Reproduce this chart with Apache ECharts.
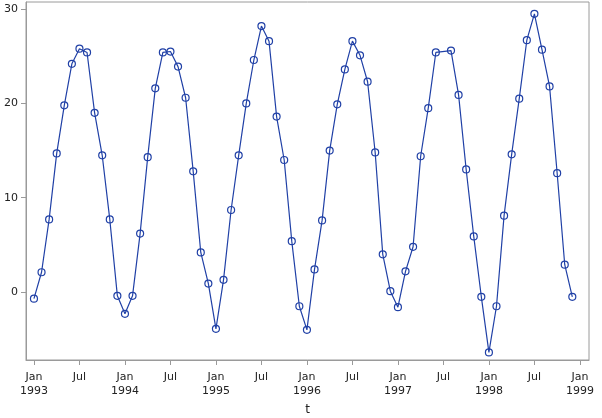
<!DOCTYPE html>
<html>
<head>
<meta charset="utf-8">
<script src="https://cdn.jsdelivr.net/npm/echarts@6/dist/echarts.min.js"></script>
<style>
html,body{margin:0;padding:0;background:#fff;}
#chart{width:602px;height:418px;}
</style>
</head>
<body>
<div id="chart"></div>
<script>
// Monthly values, Jan..Dec for each year (null = missing month)
const years = [1993, 1994, 1995, 1996, 1997, 1998];
const y1993 = [-0.7, 2.1, 7.7, 14.7, 19.8, 24.2, 25.8, 25.4, 19.0, 14.5, 7.7, -0.4];
const y1994 = [-2.3, -0.4, 6.2, 14.3, 21.6, 25.4, 25.5, 23.9, 20.6, 12.8, 4.2, 0.9];
const y1995 = [-3.9, 1.3, 8.7, 14.5, 20.0, 24.6, 28.2, 26.6, 18.6, 14.0, 5.4, -1.5];
const y1996 = [-4.0, 2.4, 7.6, 15.0, 19.9, 23.6, 26.6, 25.1, 22.3, 14.8, 4.0, 0.1];
const y1997 = [-1.6, 2.2, 4.8, 14.4, 19.5, 25.4, null, 25.6, 20.9, 13.0, 5.9, -0.5];
const y1998 = [-6.4, -1.5, 8.1, 14.6, 20.5, 26.7, 29.5, 25.7, 21.8, 12.6, 2.9, -0.5];
const yearly = [y1993, y1994, y1995, y1996, y1997, y1998];

// x tick positions (months since Jan 1993) and y ticks
const xTicks = [0, 6, 12, 18, 24, 30, 36, 42, 48, 54, 60, 66, 72];
const yTicks = [0, 10, 20, 30];

const data = [];
yearly.forEach((arr, yi) => {
  arr.forEach((v, m) => {
    if (v !== null) data.push([yi * 12 + m, v]);
  });
});

const frame = '#9a9a9a';
const lineCol = '#2040a6';
const chart = echarts.init(document.getElementById('chart'), null, {renderer: 'canvas'});
chart.setOption({
  animation: false,
  grid: {left: 26, right: 13, top: 2, bottom: 58, show: true, borderColor: frame, borderWidth: 1,
         containLabel: false, outerBoundsMode: 'none'},
  xAxis: {
    type: 'value',
    min: -1.05,
    max: 73.2,
    name: 't',
    nameLocation: 'middle',
    nameGap: 44,
    nameTextStyle: {fontFamily: 'DejaVu Sans', fontSize: 12, color: '#222'},
    axisLine: {show: true, onZero: false, lineStyle: {color: frame}},
    axisTick: {show: true, length: 5, lineStyle: {color: frame}, customValues: xTicks},
    splitLine: {show: false},
    axisLabel: {
      customValues: xTicks,
      margin: 10,
      fontFamily: 'DejaVu Sans', fontSize: 11, color: '#222', lineHeight: 14,
      formatter: v => (v % 12 === 0) ? 'Jan\n' + (years[0] + v / 12) : 'Jul'
    }
  },
  yAxis: {
    type: 'value',
    min: -7.2,
    max: 30.75,
    axisLine: {show: true, onZero: false, lineStyle: {color: frame}},
    axisTick: {show: true, length: 5, lineStyle: {color: frame}, customValues: yTicks},
    splitLine: {show: false},
    axisLabel: {customValues: yTicks, margin: 8, fontFamily: 'DejaVu Sans', fontSize: 11, color: '#222'}
  },
  series: [{
    type: 'line',
    data: data,
    symbol: 'circle',
    symbolSize: 7,
    showAllSymbol: true,
    connectNulls: true,
    lineStyle: {color: lineCol, width: 1.2},
    itemStyle: {color: 'rgba(255,255,255,0)', borderColor: lineCol, borderWidth: 1.2}
  }]
});
</script>
</body>
</html>
